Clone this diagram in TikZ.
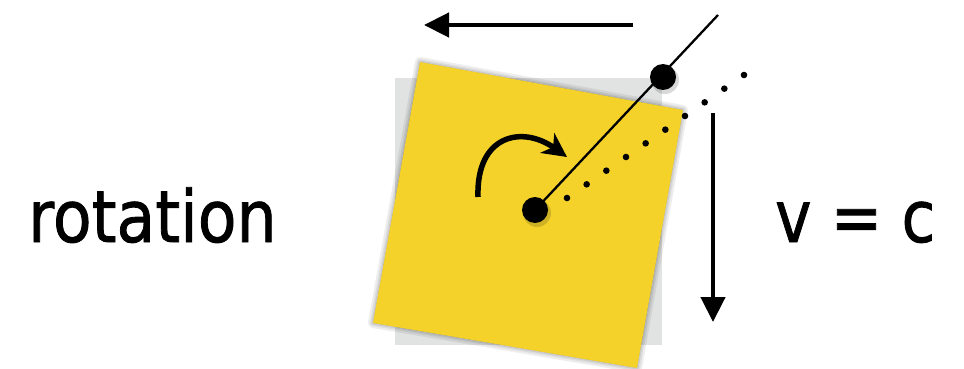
\documentclass[tikz,border=0pt]{standalone}
\usepackage{fontspec}
\setmainfont{DejaVu Sans}
\newfontfamily\labelfont[FakeBold=1.2]{DejaVu Sans}
\usetikzlibrary{arrows.meta,calc}
\definecolor{noteyellow}{HTML}{F4D22A}
\definecolor{notegray}{HTML}{E1E3E2}
\begin{document}
\begin{tikzpicture}[x=1pt,y=-1pt,
  label/.style={inner sep=0pt,anchor=base west,font=\labelfont\fontsize{72}{80}\selectfont},
  bigdot/.style={circle,fill=black,inner sep=0pt,minimum size=26pt},
  fatarrow/.style={line width=4.5pt,-{Triangle[length=25pt,width=24pt]}},
]
\useasboundingbox (0,0) rectangle (964,369);
% gray background square
\fill[notegray] (395,78) rectangle (662,345);
% yellow note corners
\coordinate (ytl) at (420,62);
\coordinate (ytr) at (683,110);
\coordinate (ybr) at (637,368);
\coordinate (ybl) at (373,323);
% soft shadow
\foreach \w in {10,6,3}{
  \filldraw[black,opacity=0.07,line width=\w pt,line join=round,shift={(3,4)}]
    (ytl) -- (ytr) -- (ybr) -- (ybl) -- cycle;
}
\fill[noteyellow] (ytl) -- (ytr) -- (ybr) -- (ybl) -- cycle;
% points
\coordinate (cpos) at (535,210);
\coordinate (tpos) at (663,77);
\coordinate (lineend) at (718,15);
\coordinate (d0) at (567,198);
\coordinate (d1) at (744,75);
% dotted line
\foreach \i in {0,...,9}{
  \fill ($(d0)!\i/9!(d1)$) circle (3.3);
}
% radius line
\draw[line width=2.3pt] (cpos) -- (lineend);
% dot shadows
\fill[black,opacity=0.15] ($(cpos)+(2,3)$) circle (14);
\fill[black,opacity=0.15] ($(tpos)+(2,3)$) circle (14);
\node[bigdot] (cdot) at (cpos) {};
\node[bigdot] (tdot) at (tpos) {};
% rotation arrow
\coordinate (rs) at (478,197);
\coordinate (re) at (567,157);
\draw[line width=5.5pt,-{Stealth[length=24pt,width=24pt,inset=7pt]}]
  (rs) .. controls (476,135) and (522,125) .. (re);
% horizontal arrow
\coordinate (hs) at (633,25);
\coordinate (he) at (424,25);
\draw[fatarrow] (hs) -- (he);
% vertical arrow
\coordinate (vs) at (713,113);
\coordinate (ve) at (713,322);
\draw[fatarrow] (vs) -- (ve);
% texts
\node[label] (rot) at (28,242) {\scalebox{0.88}[1]{rotation}};
\node[label] (vc) at (775,242) {\scalebox{0.85}[1]{v = c}};
\end{tikzpicture}
\end{document}
